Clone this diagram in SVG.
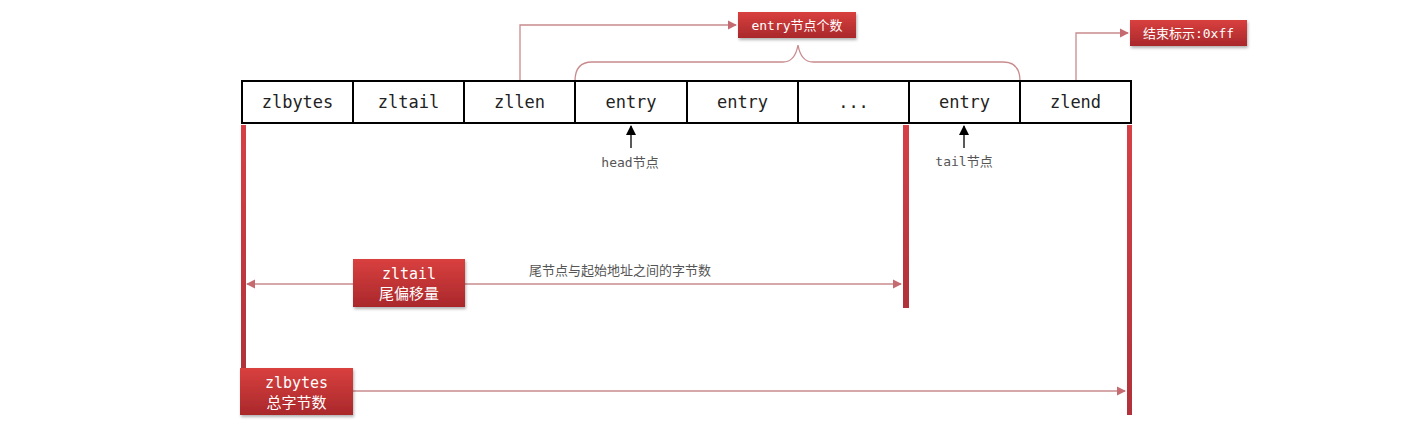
<svg xmlns="http://www.w3.org/2000/svg" width="1420" height="427" viewBox="0 0 1420 427">
<style>
.cell{fill:#fff;stroke:#000;stroke-width:2}
.ct{font-family:"DejaVu Sans Mono","Liberation Mono",monospace;font-size:17px;fill:#222;text-anchor:middle}
.rb{fill:url(#rg);filter:url(#sh)}
.rt{font-family:"DejaVu Sans Mono","Noto Sans CJK SC",monospace;font-size:15px;fill:#fff;text-anchor:middle}
.rt2{font-family:"DejaVu Sans Mono","Noto Sans CJK SC",monospace;font-size:13px;fill:#fff;text-anchor:middle}
.lbl{font-family:"DejaVu Sans Mono","Noto Sans CJK SC",monospace;font-size:13px;fill:#555;text-anchor:middle}
.pink{fill:none;stroke:#c98b8d;stroke-width:1.3}
.bar{fill:url(#bg)}
.blk{stroke:#000;stroke-width:1.3;fill:none}
</style>
<defs>
<linearGradient id="rg" x1="0" y1="0" x2="0" y2="1"><stop offset="0" stop-color="#d9403f"/><stop offset="1" stop-color="#a9282b"/></linearGradient>
<linearGradient id="bg" x1="0" y1="0" x2="0" y2="1"><stop offset="0" stop-color="#d64046"/><stop offset="1" stop-color="#b0323a"/></linearGradient>
<filter id="sh" x="-10%" y="-10%" width="130%" height="140%"><feDropShadow dx="1" dy="2" stdDeviation="1.5" flood-color="#000" flood-opacity="0.3"/></filter>
<marker id="pa" viewBox="0 0 10 10" refX="9" refY="5" markerWidth="7" markerHeight="7" orient="auto-start-reverse"><path d="M0,0 L10,5 L0,10 z" fill="#c46a70"/></marker>
<marker id="ba" viewBox="0 0 10 10" refX="9" refY="5" markerWidth="8" markerHeight="8" orient="auto"><path d="M0,0 L10,5 L0,10 z" fill="#000"/></marker>
</defs>
<rect width="1420" height="427" fill="#fff"/>
<g id="bars">
<rect class="bar" x="241" y="125" width="5" height="245"/>
<rect class="bar" x="903" y="125" width="6" height="183"/>
<rect class="bar" x="1127" y="125" width="5" height="290"/>
</g>
<g id="connectors">
<polyline class="pink" points="520,81 520,25 736,25" marker-end="url(#pa)"/>
<polyline class="pink" points="1076,81 1076,33 1128,33" marker-end="url(#pa)"/>
<path class="pink" d="M575,81 Q575,62 592,62 L783,62 Q795,62 798,45 Q801,62 813,62 L1003,62 Q1020,62 1020,81"/>
<line class="pink" x1="247" y1="284" x2="901" y2="284" marker-start="url(#pa)" marker-end="url(#pa)"/>
<line class="pink" x1="353" y1="391" x2="1125" y2="391" marker-end="url(#pa)"/>
<line class="blk" x1="631" y1="148" x2="631" y2="126" marker-end="url(#ba)"/>
<line class="blk" x1="964" y1="148" x2="964" y2="126" marker-end="url(#ba)"/>
</g>
<g id="zlbytes"><rect class="cell" x="242" y="81" width="111" height="42"/><text class="ct" x="297.5" y="108">zlbytes</text></g>
<g id="zltail"><rect class="cell" x="353" y="81" width="111" height="42"/><text class="ct" x="408.5" y="108">zltail</text></g>
<g id="zllen"><rect class="cell" x="464" y="81" width="111" height="42"/><text class="ct" x="519.5" y="108">zllen</text></g>
<g id="entry1"><rect class="cell" x="575" y="81" width="112" height="42"/><text class="ct" x="631" y="108">entry</text></g>
<g id="entry2"><rect class="cell" x="687" y="81" width="111" height="42"/><text class="ct" x="742.5" y="108">entry</text></g>
<g id="dots"><rect class="cell" x="798" y="81" width="111" height="42"/><text class="ct" x="853.5" y="108">...</text></g>
<g id="entry3"><rect class="cell" x="909" y="81" width="111" height="42"/><text class="ct" x="964.5" y="108">entry</text></g>
<g id="zlend"><rect class="cell" x="1020" y="81" width="111" height="42"/><text class="ct" x="1075.5" y="108">zlend</text></g>
<g id="count"><rect class="rb" x="738" y="12" width="118" height="26"/><text class="rt2" x="797" y="30">entry节点个数</text></g>
<g id="endmark"><rect class="rb" x="1130" y="20" width="117" height="26"/><text class="rt2" x="1188.5" y="38">结束标示:0xff</text></g>
<g id="zltailbox"><rect class="rb" x="353" y="259" width="112" height="48"/><text class="rt" x="409" y="279">zltail</text><text class="rt" x="409" y="299">尾偏移量</text></g>
<g id="zlbytesbox"><rect class="rb" x="240" y="368" width="113" height="47"/><text class="rt" x="296.5" y="388">zlbytes</text><text class="rt" x="296.5" y="408">总字节数</text></g>
<g id="labels">
<text class="lbl" x="630" y="167">head节点</text>
<text class="lbl" x="964" y="166">tail节点</text>
<text class="lbl" x="620" y="275">尾节点与起始地址之间的字节数</text>
</g>
</svg>
